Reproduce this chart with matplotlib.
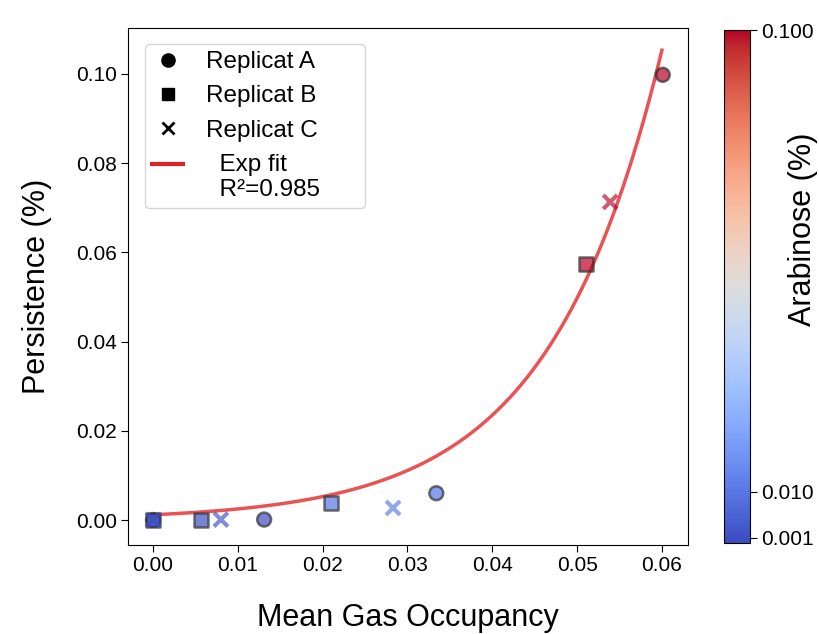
import numpy as np
import matplotlib
matplotlib.use("Agg")
import matplotlib.pyplot as plt
from matplotlib.lines import Line2D
from matplotlib.legend_handler import HandlerLine2D

plt.rcParams['font.family'] = ['Liberation Sans', 'DejaVu Sans']

# Data
occ_A = [0.0, 0.0131, 0.0334, 0.0601]
pers_A = [0.0, 0.0001, 0.0060, 0.0998]
occ_B = [0.0, 0.0057, 0.0210, 0.0510]
pers_B = [0.0, 0.0001, 0.0038, 0.0574]
occ_C = [0.0, 0.0080, 0.0283, 0.0539]
pers_C = [0.0, 0.0001, 0.0027, 0.0713]
arabinose = [0.0, 0.001, 0.01, 0.1]

fit_a = 0.00117
fit_b = 75.0
fit_r2 = 0.985

TICK_FS = 15
LABEL_FS = 22
LEG_FS = 17.5


class ShiftedLineHandler(HandlerLine2D):
    def __init__(self, shift, **kw):
        super().__init__(**kw)
        self.shift = shift

    def create_artists(self, legend, orig_handle, xdescent, ydescent, width,
                       height, fontsize, trans):
        arts = super().create_artists(legend, orig_handle, xdescent, ydescent,
                                      width, height, fontsize, trans)
        for a in arts:
            if isinstance(a, Line2D):
                y = np.asarray(a.get_ydata(), dtype=float)
                a.set_ydata(y + self.shift * fontsize)
        return arts


fig = plt.figure(figsize=(8.19, 6.34), dpi=100)
ax = fig.add_axes([0.1563, 0.1404, 0.684, 0.8155])
cax = fig.add_axes([0.884, 0.1435, 0.0317, 0.809])

cmap = plt.get_cmap('coolwarm')
norm = matplotlib.colors.Normalize(vmin=0.0, vmax=0.1)

xf = np.linspace(0, 0.06, 300)
ax.plot(xf, fit_a * np.exp(fit_b * xf), color='#e41a1c', alpha=0.75, lw=2.5, zorder=1)

sc = ax.scatter(occ_A, pers_A, c=arabinose, cmap=cmap, norm=norm, marker='o', s=100,
                edgecolors='#333333', linewidths=1.8, alpha=0.7, zorder=3)
ax.scatter(occ_B, pers_B, c=arabinose, cmap=cmap, norm=norm, marker='s', s=100,
           edgecolors='#333333', linewidths=1.8, alpha=0.7, zorder=3)
ax.scatter(occ_C, pers_C, c=arabinose, cmap=cmap, norm=norm, marker='x', s=100,
           linewidths=3, alpha=0.65, zorder=3)

ax.set_xlim(-0.00295, 0.0631)
ax.set_ylim(-0.0056, 0.1103)
ax.set_xticks([0.0, 0.01, 0.02, 0.03, 0.04, 0.05, 0.06])
ax.set_yticks([0.0, 0.02, 0.04, 0.06, 0.08, 0.10])
ax.xaxis.set_major_formatter(matplotlib.ticker.FormatStrFormatter('%.2f'))
ax.yaxis.set_major_formatter(matplotlib.ticker.FormatStrFormatter('%.2f'))
ax.tick_params(labelsize=TICK_FS, length=5, pad=3)
ax.set_xlabel('Mean Gas Occupancy', fontsize=LABEL_FS, labelpad=20)
ax.set_ylabel('Persistence (%)', fontsize=LABEL_FS, labelpad=17)

fit_handle = Line2D([], [], color='#dc2228', lw=3)
handles = [
    Line2D([], [], marker='o', color='black', ls='none', markersize=9.5),
    Line2D([], [], marker='s', color='black', ls='none', markersize=9),
    Line2D([], [], marker='x', color='black', ls='none', markersize=8, mew=2),
    fit_handle,
]
labels = ['Replicat A', 'Replicat B', 'Replicat C', f'  Exp fit\n  R²={fit_r2}']
leg = ax.legend(handles, labels, loc='upper left', fontsize=LEG_FS, frameon=True,
                bbox_to_anchor=(0.0304, 0.0, 0.393, 0.969), mode='expand',
                borderaxespad=0.0, borderpad=0.3, handlelength=1.25,
                handletextpad=0.95, labelspacing=0.5,
                handler_map={fit_handle: ShiftedLineHandler(0.55)})
for t in leg.get_texts():
    t.set_multialignment('left')

cb = fig.colorbar(sc, cax=cax)
cb.solids.set_alpha(1)
cb.set_ticks([0.001, 0.01, 0.1])
cb.set_ticklabels(['0.001', '0.010', '0.100'])
cb.ax.tick_params(labelsize=TICK_FS, length=5, pad=3)
fig.text(0.980, 0.639, 'Arabinose (%)', rotation=90, fontsize=LABEL_FS,
         ha='center', va='center')

fig.savefig('out.png', dpi=100)
